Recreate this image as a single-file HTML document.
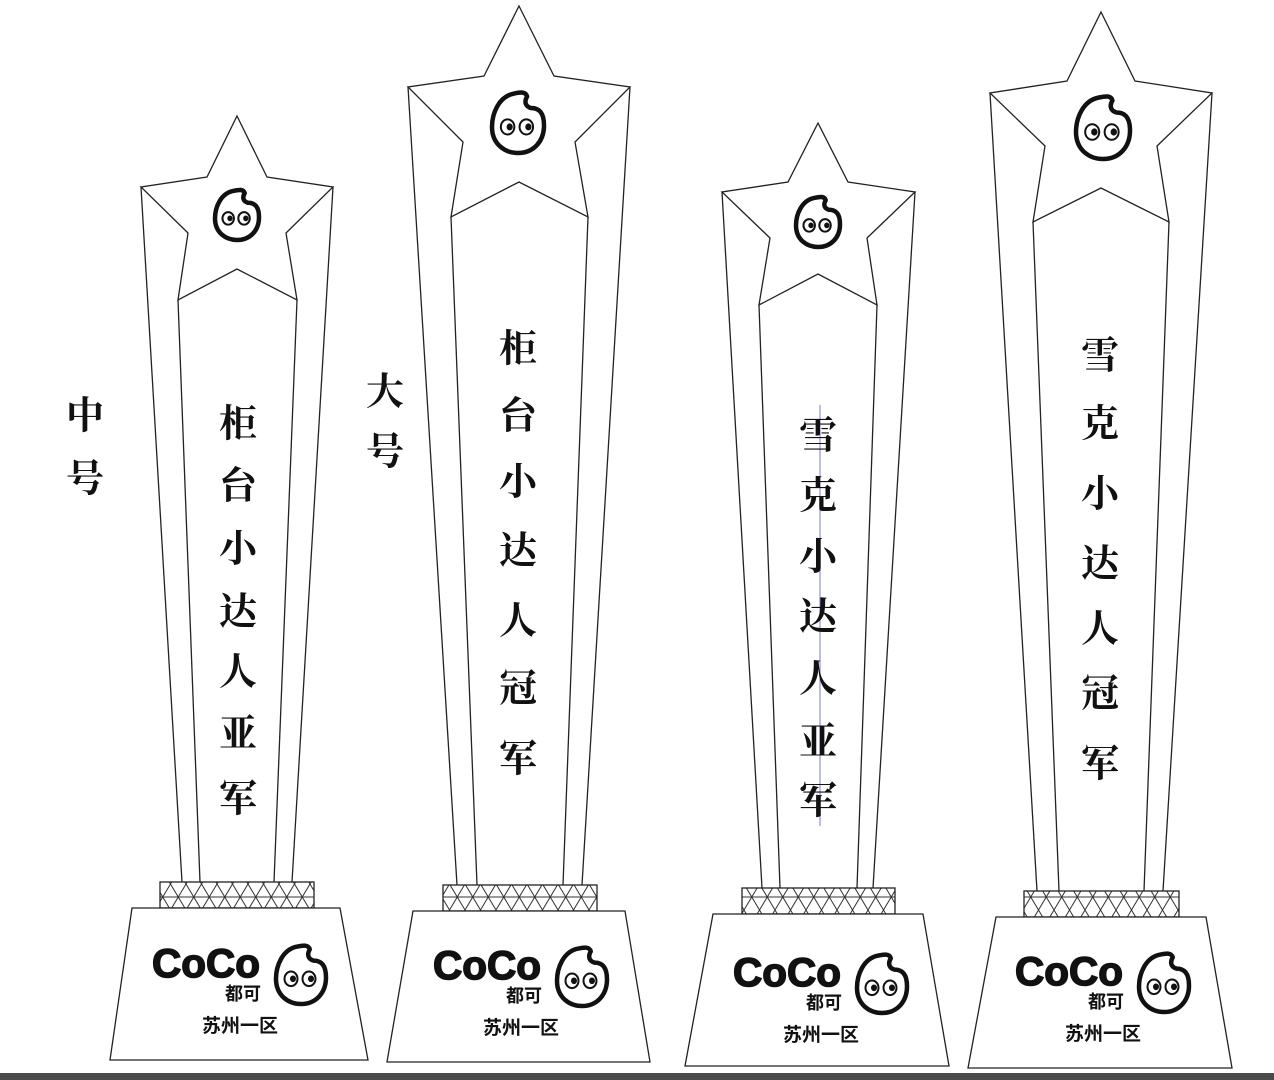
<!DOCTYPE html>
<html><head><meta charset="utf-8"><style>
html,body{margin:0;padding:0;background:#fff;}
svg{display:block;}
.cjk{font-family:"Noto Serif CJK SC","Noto Sans CJK SC",serif;font-weight:700;fill:#111;}
</style></head><body>
<svg width="1274" height="1080" viewBox="0 0 1274 1080" xmlns="http://www.w3.org/2000/svg">
<defs>
  <g id="face">
    <path d="M -0.15,-1.05 C -0.75,-0.95 -1,-0.35 -1,0.1 C -1,0.7 -0.5,1 0,1 C 0.6,1 1,0.6 1,0.05 C 1,-0.4 0.8,-0.55 0.5,-0.55 C 0.3,-0.6 0.22,-0.75 0.35,-0.95 C 0.3,-1.12 0.1,-1.1 -0.15,-1.05 Z" fill="none" stroke="#111" stroke-width="4.5" vector-effect="non-scaling-stroke" stroke-linejoin="round"/>
    <circle cx="-0.4" cy="0.1" r="0.26" fill="none" stroke="#111" stroke-width="2" vector-effect="non-scaling-stroke"/>
    <circle cx="0.32" cy="0.1" r="0.26" fill="none" stroke="#111" stroke-width="2" vector-effect="non-scaling-stroke"/>
    <circle cx="-0.32" cy="0.1" r="0.12" fill="#111"/>
    <circle cx="0.4" cy="0.1" r="0.12" fill="#111"/>
  </g>
  <g id="logo">
    <text x="0" y="29" font-family="Liberation Sans, sans-serif" font-weight="700" font-size="40" textLength="108" lengthAdjust="spacingAndGlyphs" fill="#111" stroke="#111" stroke-width="1.5">CoCo</text>
    <text x="73" y="52" font-size="18" style="font-family:'Noto Sans CJK SC',sans-serif;font-weight:700;fill:#111">都可</text>
    <g transform="translate(149,28) scale(25,28)"><use href="#face"/></g>
    <text x="88" y="84" text-anchor="middle" font-size="19" style="font-family:'Noto Sans CJK SC',sans-serif;font-weight:700;fill:#111">苏州一区</text>
  </g>
  <pattern id="net" width="15.5" height="26" patternUnits="userSpaceOnUse">
    <path d="M0,0 L15.5,26 M15.5,0 L0,26 M0,13 L15.5,13" stroke="#333" stroke-width="1" fill="none"/>
  </pattern>
</defs>

<g fill="none" stroke="#222" stroke-width="1.3" stroke-linejoin="miter">
  <path d="M237,116 L267,177 L333,187 L286,233 L297,300 L237,269 L178,300 L188,233 L141,187 L207,177 Z"/>
  <path d="M141,187 L182,882 M178,300 L200,882 M297,300 L274,882 M333,187 L292,882"/>
  <rect x="160" y="882" width="154" height="26" fill="url(#net)"/>
  <path d="M132,908 L340,908 L368,1060 L110,1060 Z" fill="#fff"/>
  <path d="M519,6 L554,76 L630,87 L575,142 L588,217 L519,182 L451,217 L463,142 L408,87 L484,76 Z"/>
  <path d="M408,87 L457,885 M451,217 L477,885 M588,217 L563,885 M630,87 L582,885"/>
  <rect x="443" y="885" width="154" height="26" fill="url(#net)"/>
  <path d="M413,911 L625,911 L650,1062 L387,1062 Z" fill="#fff"/>
  <path d="M818,123 L848,182 L915,192 L867,238 L877,305 L818,274 L759,305 L770,238 L722,192 L788,182 Z"/>
  <path d="M722,192 L762,888 M759,305 L780,888 M877,305 L857,888 M915,192 L873,888"/>
  <rect x="742" y="888" width="153" height="26" fill="url(#net)"/>
  <path d="M713,914 L923,914 L949,1066 L685,1066 Z" fill="#fff"/>
  <path d="M1101,12 L1135,81 L1212,93 L1157,146 L1169,222 L1101,188 L1033,222 L1045,146 L990,93 L1067,81 Z"/>
  <path d="M990,93 L1037,891 M1033,222 L1059,891 M1169,222 L1144,891 M1212,93 L1163,891"/>
  <rect x="1024" y="891" width="155" height="26" fill="url(#net)"/>
  <path d="M996,917 L1206,917 L1232,1068 L968,1068 Z" fill="#fff"/>
</g>

<g transform="translate(237,216) scale(22,24)"><use href="#face"/></g>
<g transform="translate(518,124) scale(26,29)"><use href="#face"/></g>
<g transform="translate(818,223) scale(22,24)"><use href="#face"/></g>
<g transform="translate(1103,129) scale(27,30)"><use href="#face"/></g>

<use href="#logo" transform="translate(152,948)"/>
<use href="#logo" transform="translate(433,950)"/>
<use href="#logo" transform="translate(733,957)"/>
<use href="#logo" transform="translate(1015,956)"/>

<line x1="820" y1="405" x2="820" y2="826" stroke="#7a7ad0" stroke-width="1"/>

<g class="cjk" font-size="38" text-anchor="middle" dominant-baseline="central">
  <text x="85" y="412">中</text><text x="85" y="475">号</text>
  <text x="385" y="388">大</text><text x="385" y="448">号</text>

  <text x="238" y="420">柜</text><text x="238" y="482">台</text><text x="238" y="545">小</text>
  <text x="238" y="608">达</text><text x="238" y="668">人</text><text x="238" y="730">亚</text><text x="238" y="795">军</text>

  <text x="518" y="345">柜</text><text x="518" y="412">台</text><text x="518" y="478">小</text>
  <text x="518" y="547">达</text><text x="518" y="617">人</text><text x="518" y="685">冠</text><text x="518" y="755">军</text>

  <text x="818" y="432">雪</text><text x="818" y="492">克</text><text x="818" y="553">小</text>
  <text x="818" y="613">达</text><text x="818" y="675">人</text><text x="818" y="738">亚</text><text x="818" y="797">军</text>

  <text x="1100" y="352">雪</text><text x="1100" y="420">克</text><text x="1100" y="490">小</text>
  <text x="1100" y="560">达</text><text x="1100" y="625">人</text><text x="1100" y="690">冠</text><text x="1100" y="760">军</text>
</g>

<rect x="0" y="1073" width="1274" height="7" fill="#4a4a4a"/>
</svg>
</body></html>
